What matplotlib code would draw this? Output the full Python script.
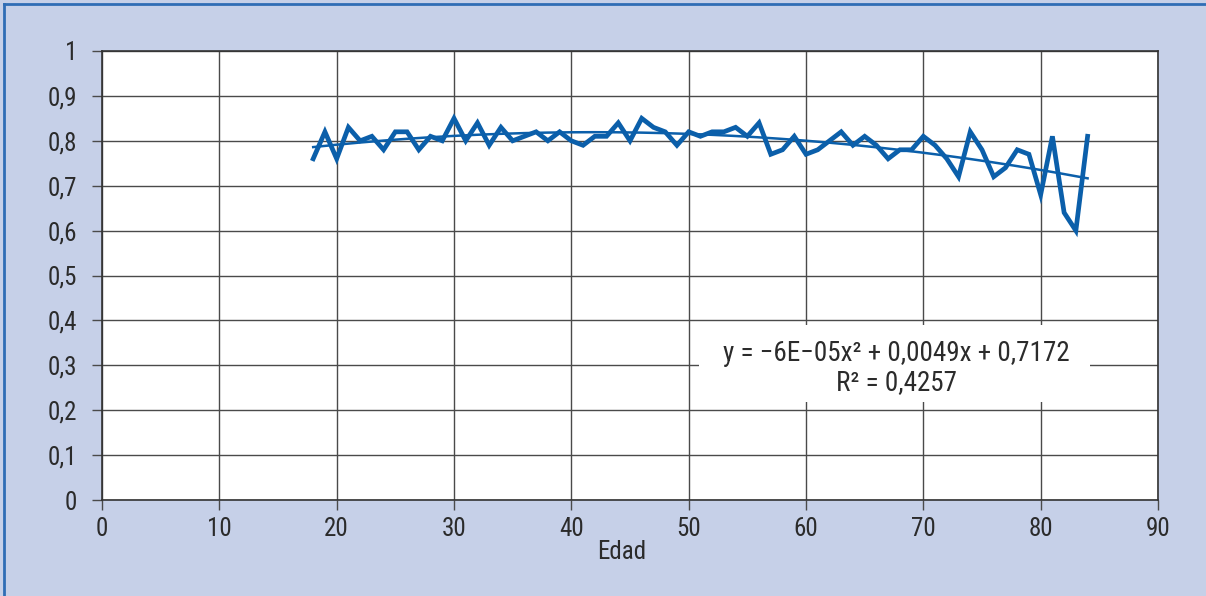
import matplotlib
matplotlib.use("Agg")
import matplotlib.pyplot as plt
import numpy as np
from matplotlib import font_manager
from matplotlib.lines import Line2D
from matplotlib.patches import Rectangle
from matplotlib.ticker import FuncFormatter

# pick a narrow face if the machine has one
_have = {f.name for f in font_manager.fontManager.ttflist}
_fams = [f for f in ["Liberation Sans Narrow", "DejaVu Sans Condensed", "Roboto Condensed",
                     "Roboto", "DejaVu Sans"] if f in _have]
plt.rcParams["font.family"] = _fams + ["DejaVu Sans"]

# data
edad = list(range(18, 85))
valor = [
    0.76, 0.82, 0.76, 0.83, 0.80, 0.81, 0.78, 0.82, 0.82, 0.78,   # 18-27
    0.81, 0.80, 0.85, 0.80, 0.84, 0.79, 0.83, 0.80, 0.81, 0.82,   # 28-37
    0.80, 0.82, 0.80, 0.79, 0.81, 0.81, 0.84, 0.80, 0.85, 0.83,   # 38-47
    0.82, 0.79, 0.82, 0.81, 0.82, 0.82, 0.83, 0.81, 0.84, 0.77,   # 48-57
    0.78, 0.81, 0.77, 0.78, 0.80, 0.82, 0.79, 0.81, 0.79, 0.76,   # 58-67
    0.78, 0.78, 0.81, 0.79, 0.76, 0.72, 0.82, 0.78, 0.72, 0.74,   # 68-77
    0.78, 0.77, 0.68, 0.81, 0.64, 0.60, 0.81,                     # 78-84
]
x_ticks = list(range(0, 100, 10))
y_ticks = [i / 10 for i in range(11)]
ecuacion = "y = \u22126E\u221205x\u00b2 + 0,0049x + 0,7172"
r2_texto = "R\u00b2 = 0,4257"

BG = "#c6d0e8"
BLUE = "#0b5faa"
GRID = "#4a4a4a"
TXT = "#2b2b2b"

W, H = 1206, 596
fig = plt.figure(figsize=(W / 100, H / 100), dpi=100, facecolor=BG)
ax = fig.add_axes([102 / W, (H - 500) / H, 1056 / W, 449 / H])
ax.set_facecolor("white")

# frame of the picture (blue rule top and left)
fig.add_artist(Line2D([4 / W, 4 / W], [0, 1 - 4 / H], color="#2f6db5", lw=2, transform=fig.transFigure))
fig.add_artist(Line2D([4 / W, 1], [1 - 4 / H, 1 - 4 / H], color="#2f6db5", lw=2, transform=fig.transFigure))

x = np.array(edad, dtype=float)
y = np.array(valor, dtype=float)
coef = np.polyfit(x, y, 2)
xf = np.linspace(x.min(), x.max(), 200)

ax.set_xlim(0, 90)
ax.set_ylim(0, 1)
ax.set_xticks(x_ticks)
ax.set_yticks(y_ticks)
ax.yaxis.set_major_formatter(FuncFormatter(lambda v, p: f"{v:g}".replace(".", ",")))
ax.grid(True, color=GRID, lw=1.0)
ax.set_axisbelow(True)
ax.tick_params(direction="out", length=7, width=1, color=GRID, labelsize=18,
               labelcolor=TXT)
ax.tick_params(axis="y", pad=11)
ax.tick_params(axis="x", pad=5)
for s in ax.spines.values():
    s.set_color("#333333")
    s.set_linewidth(1.2)

# white box behind the trend label
ax.add_patch(Rectangle((0.565, 0.218), 0.371, 0.172, transform=ax.transAxes,
                       facecolor="white", edgecolor="none", zorder=1.5))

ax.plot(xf, np.polyval(coef, xf), color=BLUE, lw=1.8, zorder=3)
ax.plot(x, y, color=BLUE, lw=3.4, zorder=4, solid_joinstyle="miter")

ax.text(0.752, 0.293, ecuacion + "\n" + r2_texto, transform=ax.transAxes,
        ha="center", va="center", multialignment="center", fontsize=19.5,
        color=TXT, linespacing=1.1, zorder=5)

ax.set_xlabel("Edad", fontsize=18, color=TXT)
ax.xaxis.set_label_coords(0.492, -0.088)

fig.savefig("out.png", dpi=100, facecolor=BG)
